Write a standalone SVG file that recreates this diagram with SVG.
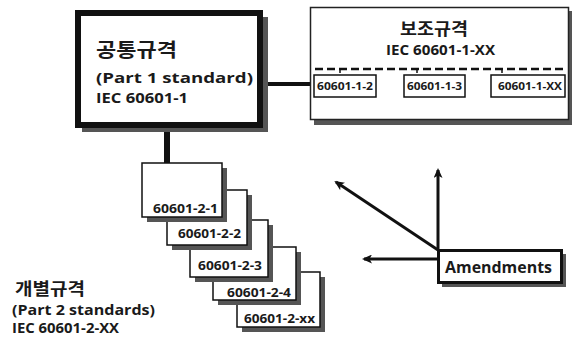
<svg xmlns="http://www.w3.org/2000/svg" width="572" height="340" viewBox="0 0 572 340">
<style>
text{font-family:"Open Sans","Noto Sans CJK KR",sans-serif;font-weight:bold;fill:#1a1a1a}
.shadow{fill:#555}
.card{fill:#fff;stroke:#111;stroke-width:1.5}
.line{stroke:#111;fill:none}
</style>
<defs>
<marker id="ah" markerWidth="10" markerHeight="9" refX="8" refY="4.5" orient="auto" markerUnits="userSpaceOnUse">
<path d="M0,0 L10,4.5 L0,9 L2.5,4.5 Z" fill="#111"/>
</marker>
</defs>
<rect width="572" height="340" fill="#fff"/>
<g id="connectors">
<line class="line" x1="263" y1="84" x2="314" y2="84" stroke-width="4"/>
<line class="line" x1="376" y1="85" x2="404" y2="85" stroke-width="4"/>
<line class="line" x1="465" y1="85" x2="491" y2="85" stroke-width="4"/>
<line class="line" x1="167" y1="128" x2="167" y2="164" stroke-width="6"/>
<line class="line" x1="438" y1="250" x2="438" y2="170" stroke-width="3" marker-end="url(#ah)"/>
<line class="line" x1="438" y1="250" x2="336" y2="182" stroke-width="3" marker-end="url(#ah)"/>
<line class="line" x1="438" y1="259" x2="364" y2="259" stroke-width="3" marker-end="url(#ah)"/>
</g>
<g id="part1">
<rect x="82" y="17" width="186" height="115" class="shadow"/>
<rect x="78" y="13" width="182" height="112" fill="#fff" stroke="#111" stroke-width="6"/>
<text x="96" y="57" font-size="19" textLength="81" lengthAdjust="spacingAndGlyphs">공통규격</text>
<text x="96" y="83" font-size="15" textLength="157" lengthAdjust="spacingAndGlyphs">(Part 1 standard)</text>
<text x="96" y="103" font-size="15" textLength="92" lengthAdjust="spacingAndGlyphs">IEC 60601-1</text>
</g>
<g id="collateral">
<rect x="314" y="11" width="258" height="114" class="shadow"/>
<rect x="310.5" y="7.5" width="258" height="112" fill="#fff" stroke="#222" stroke-width="1.5"/>
<text x="400" y="35" font-size="17" textLength="68" lengthAdjust="spacingAndGlyphs">보조규격</text>
<text x="386" y="55" font-size="14" textLength="109" lengthAdjust="spacingAndGlyphs">IEC 60601-1-XX</text>
<line x1="315" y1="69" x2="567" y2="69" stroke="#111" stroke-width="2.5" stroke-dasharray="8,4"/>
<path d="M340,69 v4 M417,69 v4 M502,69 v4" class="line" stroke-width="1.5"/>
</g>
<g id="c12">
<rect x="314" y="75" width="62" height="22" class="card"/>
<text x="317" y="90" font-size="11" textLength="56" lengthAdjust="spacingAndGlyphs">60601-1-2</text>
</g>
<g id="c13">
<rect x="404" y="75" width="61" height="22" class="card"/>
<text x="407" y="90" font-size="11" textLength="55" lengthAdjust="spacingAndGlyphs">60601-1-3</text>
</g>
<g id="c1xx">
<rect x="491" y="75" width="74" height="22" class="card"/>
<text x="498" y="90" font-size="11" textLength="64" lengthAdjust="spacingAndGlyphs">60601-1-XX</text>
</g>
<g id="p25">
<rect x="242" y="277" width="83" height="55" class="shadow"/>
<rect x="237" y="272" width="83" height="55" class="card"/>
<text x="244" y="323" font-size="13" textLength="71" lengthAdjust="spacingAndGlyphs">60601-2-xx</text>
</g>
<g id="p24">
<rect x="218" y="252" width="83" height="53" class="shadow"/>
<rect x="213" y="247" width="83" height="53" class="card"/>
<text x="227" y="297" font-size="13" textLength="64" lengthAdjust="spacingAndGlyphs">60601-2-4</text>
</g>
<g id="p23">
<rect x="195" y="225" width="78" height="57" class="shadow"/>
<rect x="190" y="220" width="78" height="57" class="card"/>
<text x="198" y="270" font-size="13" textLength="64" lengthAdjust="spacingAndGlyphs">60601-2-3</text>
</g>
<g id="p22">
<rect x="172" y="195" width="80" height="55" class="shadow"/>
<rect x="167" y="190" width="80" height="55" class="card"/>
<text x="178" y="238" font-size="13" textLength="63" lengthAdjust="spacingAndGlyphs">60601-2-2</text>
</g>
<g id="p21">
<rect x="147" y="168" width="80" height="54" class="shadow"/>
<rect x="142" y="163" width="80" height="54" class="card"/>
<text x="153" y="213" font-size="13" textLength="65" lengthAdjust="spacingAndGlyphs">60601-2-1</text>
</g>
<g id="part2label">
<text x="15" y="295" font-size="17" textLength="70" lengthAdjust="spacingAndGlyphs">개별규격</text>
<text x="12" y="315" font-size="14" textLength="143" lengthAdjust="spacingAndGlyphs">(Part 2 standards)</text>
<text x="12" y="333" font-size="14" textLength="107" lengthAdjust="spacingAndGlyphs">IEC 60601-2-XX</text>
</g>
<g id="amendments">
<rect x="442" y="254" width="124" height="33" class="shadow"/>
<rect x="438.5" y="250.5" width="123" height="32" fill="#fff" stroke="#111" stroke-width="3"/>
<text x="445" y="273" font-size="15.5" textLength="107" lengthAdjust="spacingAndGlyphs">Amendments</text>
</g>
</svg>
